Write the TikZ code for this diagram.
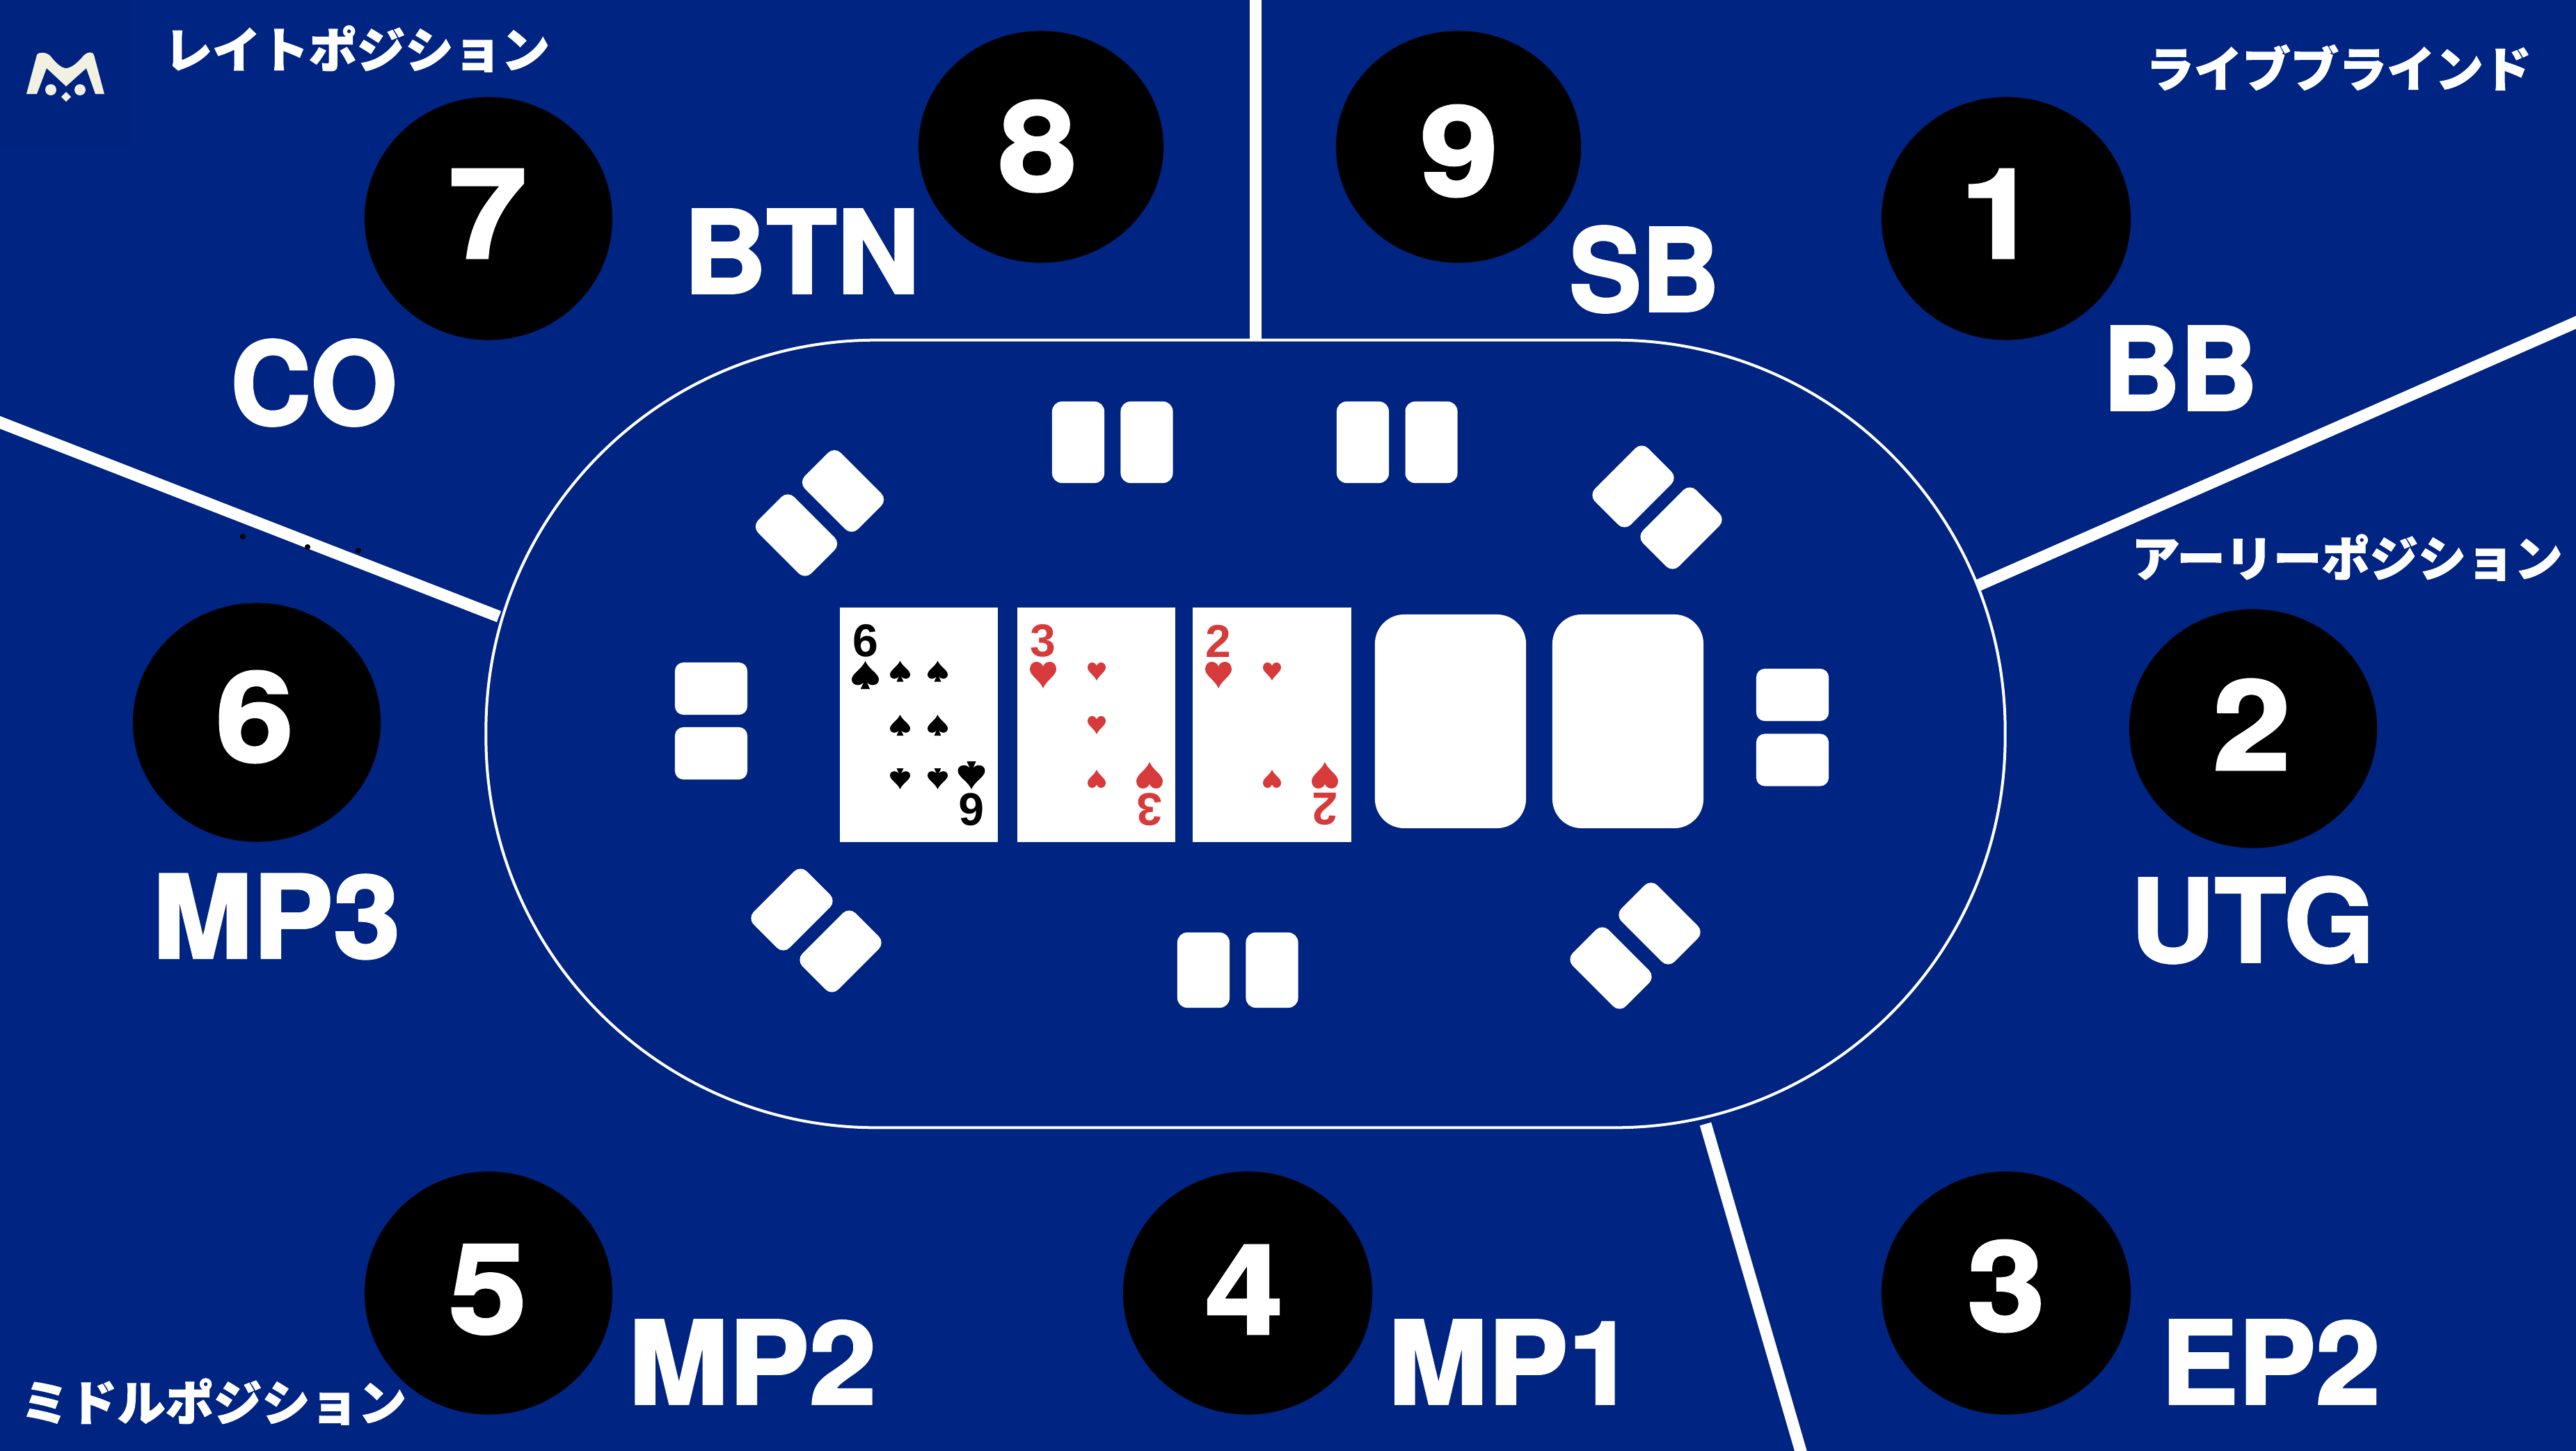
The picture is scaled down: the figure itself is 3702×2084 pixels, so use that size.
\documentclass[tikz,border=0pt]{standalone}
\usepackage{fontspec}
\setmainfont{Liberation Sans}
\newfontfamily\heavyfont{TeX Gyre Heros}[BoldFeatures={FakeBold=2}]
\newfontfamily\jpfont{Noto Sans CJK JP}[BoldFeatures={FakeBold=1.5}]
\usetikzlibrary{shapes.geometric}
\definecolor{felt}{HTML}{002482}
\definecolor{feltdark}{HTML}{00237F}
\definecolor{suitred}{HTML}{D63A3A}
\definecolor{logocol}{HTML}{F2F0E0}
\newcommand{\heartshape}{(0,.5) .. controls (-.12,.2) and (-.5,.02) .. (-.5,-.22) .. controls (-.5,-.4) and (-.38,-.5) .. (-.26,-.5) .. controls (-.12,-.5) and (-.04,-.42) .. (0,-.33) .. controls (.04,-.42) and (.12,-.5) .. (.26,-.5) .. controls (.38,-.5) and (.5,-.4) .. (.5,-.22) .. controls (.5,.02) and (.12,.2) .. (0,.5) -- cycle}
\newcommand{\spadeshape}{(0,-.5) .. controls (.12,-.22) and (.5,-.05) .. (.5,.16) .. controls (.5,.3) and (.38,.36) .. (.27,.36) .. controls (.17,.36) and (.09,.3) .. (.05,.24) -- (.17,.5) -- (-.17,.5) -- (-.05,.24) .. controls (-.09,.3) and (-.17,.36) .. (-.27,.36) .. controls (-.38,.36) and (-.5,.3) .. (-.5,.16) .. controls (-.5,-.05) and (-.12,-.22) .. (0,-.5) -- cycle}
% pip: colour, shape, centre, w, h (negative h turns it upside down)
\newcommand{\pip}[5]{\fill[#1,shift={(#3)},xscale=#4,yscale=#5] #2;}
\tikzset{
  x=0.01cm,y=-0.01cm,
  seat/.style={ellipse,fill=black,inner sep=0pt},
  digitlabel/.style={text=white,font=\heavyfont\fontsize{51}{51}\selectfont\bfseries,inner sep=0pt},
  poslabel/.style={text=white,font=\heavyfont\fontsize{47}{47}\selectfont\bfseries,inner sep=0pt},
  grouplabel/.style={text=white,font=\jpfont\fontsize{19.7}{19.7}\selectfont\bfseries,inner sep=0pt},
  divider/.style={draw=white,line width=0.17cm},
  tablerim/.style={draw=white,line width=0.04cm,rounded corners=5.6cm,minimum width=21.82cm,minimum height=11.31cm,inner sep=0pt},
  facecard/.style={fill=white,minimum width=2.27cm,minimum height=3.37cm,inner sep=0pt},
  blankcard/.style={fill=white,minimum width=2.17cm,minimum height=3.07cm,rounded corners=.42cm,inner sep=0pt},
  chipv/.style={fill=white,minimum width=.75cm,minimum height=1.17cm,rounded corners=.14cm,inner sep=0pt},
  chipb/.style={fill=white,minimum width=.75cm,minimum height=1.08cm,rounded corners=.14cm,inner sep=0pt},
  chiph/.style={fill=white,minimum width=1.04cm,minimum height=.75cm,rounded corners=.12cm,inner sep=0pt},
  chipd/.style={fill=white,minimum width=.73cm,minimum height=1.08cm,rounded corners=.13cm,inner sep=0pt},
  cardnum/.style={inner sep=0pt,font=\fontsize{18.8}{18.8}\selectfont\bfseries},
}
\begin{document}
\begin{tikzpicture}
\useasboundingbox (0,0) rectangle (3702,2084);
\fill[felt] (-6,-6) rectangle (3708,2090);
\fill[feltdark] (0,0) rectangle (190,210);
% table
\node[tablerim] (table) at (1790,1054.5) {};
% dividers
\coordinate (vtop) at (1804,-5);
\coordinate (vbot) at (1804,489);
\coordinate (ltop) at (-5,605);
\coordinate (lbot) at (717,886);
\coordinate (rtop) at (3707,461);
\coordinate (rbot) at (2843,841);
\coordinate (btop) at (2451,1615);
\coordinate (bbot) at (2589,2089);
\draw[divider] (vtop) -- (vbot);
\draw[divider] (ltop) -- (lbot);
\draw[divider] (rtop) -- (rbot);
\draw[divider] (btop) -- (bbot);
% specks
\fill[black] (349,771) circle (4) (442,786) circle (4) (515,791) circle (4);
% seats
\foreach \n/\cx/\cy/\w/\h/\tx/\ty/\dg in {
  a/702/314/3.56/3.49/701/307/7, b/1496/211/3.52/3.33/1491/210/8, c/2096/211/3.52/3.33/2097/217/9,
  d/2883/314/3.58/3.49/2873/307/1, e/3238/1047/3.56/3.43/3236/1041/2, f/369/1038/3.56/3.43/366/1030/6,
  g/702/1858/3.56/3.49/701/1853/5, h/1793/1858/3.58/3.49/1788/1853/4, i/2883/1858/3.58/3.49/2883/1848/3}{
  \node[seat,minimum width=\w cm,minimum height=\h cm] (seat\n) at (\cx,\cy) {};
  \node[digitlabel] (num\n) at (\tx,\ty) {\scalebox{1.12}[1]{\dg}};
}
% position labels
\foreach \n/\px/\py/\sc/\tt in {
  co/451/550/.97/CO, btn/1152/361/1.0/BTN, sb/2363/387/.94/SB, bb/3133/529/.93/BB,
  mpc/397/1317/1.05/MP3, utg/3237/1322/1.015/UTG, mpb/1081/1957/1.05/MP2, mpa/2172/1957/1.045/MP1, ep/3263/1957/1.01/EP2}{
  \node[poslabel] (pos\n) at (\px,\py) {\scalebox{\sc}[1]{\tt}};
}
% group labels
\node[grouplabel] (late) at (513,70) {レイトポジション};
\node[grouplabel] (blind) at (3361,97) {ライブブラインド};
\node[grouplabel] (early) at (3373,801) {アーリーポジション};
\node[grouplabel] (middle) at (307,2014) {ミドルポジション};
% logo
\fill[logocol] (38,135) -- (53,79) .. controls (54,75) and (66,74) .. (72,80) .. controls (80,90) and (88,98) .. (95,98) .. controls (102,98) and (112,90) .. (120,80) .. controls (126,74) and (134,74) .. (135,79) -- (150,135) -- (137,135) -- (124,98) -- (95,124) -- (67,98) -- (53,135) -- cycle;
\fill[logocol] (73,129) circle (8) (115,129) circle (8);
\fill[logocol] (95,132) -- (102,139) -- (95,146) -- (88,139) -- cycle;
% board cards
\node[facecard] (card1) at (1320.5,1041.5) {};
\node[facecard] (card2) at (1575.5,1041.5) {};
\node[facecard] (card3) at (1828,1041.5) {};
\node[blankcard] (card4) at (2084.5,1036.5) {};
\node[blankcard] (card5) at (2339.5,1036.5) {};
% six of spades
\node[cardnum,text=black] (six) at (1244,921) {6};
\node[cardnum,text=black,rotate=180] (sixr) at (1396,1163) {6};
\pip{black}{\spadeshape}{1243.5,970}{39}{40}
\pip{black}{\spadeshape}{1396,1114}{39}{-40}
\foreach \qx in {1293.5,1347.5}{
  \pip{black}{\spadeshape}{\qx,964.5}{29}{30}
  \pip{black}{\spadeshape}{\qx,1042}{29}{30}
  \pip{black}{\spadeshape}{\qx,1119}{29}{-30}
}
% three of hearts
\node[cardnum,text=suitred] (three) at (1499,921) {3};
\node[cardnum,text=suitred,rotate=180] (threer) at (1652,1163) {3};
\pip{suitred}{\heartshape}{1499,970}{38}{38}
\pip{suitred}{\heartshape}{1652,1114}{38}{-38}
\pip{suitred}{\heartshape}{1576,965}{26}{26}
\pip{suitred}{\heartshape}{1576,1042}{26}{26}
\pip{suitred}{\heartshape}{1576,1119}{26}{-26}
% two of hearts
\node[cardnum,text=suitred] (two) at (1751,921) {2};
\node[cardnum,text=suitred,rotate=180] (twor) at (1904,1163) {2};
\pip{suitred}{\heartshape}{1751,970}{38}{38}
\pip{suitred}{\heartshape}{1904,1114}{38}{-38}
\pip{suitred}{\heartshape}{1828,965}{26}{26}
\pip{suitred}{\heartshape}{1828,1119}{26}{-26}
% hole cards
\node[chipv] (ta) at (1549.5,635.5) {};
\node[chipv] (tb) at (1648,635.5) {};
\node[chipv] (tc) at (1958.5,635.5) {};
\node[chipv] (td) at (2057,635.5) {};
\node[chipb] (ba) at (1729.5,1394) {};
\node[chipb] (bb) at (1828,1394) {};
\node[chiph] (la) at (1022,989.5) {};
\node[chiph] (lb) at (1022,1082.5) {};
\node[chiph] (ra) at (2576,998.5) {};
\node[chiph] (rb) at (2576,1092) {};
\node[chipd,rotate=45] (tla) at (1211.5,705.5) {};
\node[chipd,rotate=45] (tlb) at (1144.5,769) {};
\node[chipd,rotate=-45] (tra) at (2347,699) {};
\node[chipd,rotate=-45] (trb) at (2416,759) {};
\node[chipd,rotate=-45] (bla) at (1138,1307) {};
\node[chipd,rotate=-45] (blb) at (1208,1367) {};
\node[chipd,rotate=45] (bra) at (2385,1327) {};
\node[chipd,rotate=45] (brb) at (2315,1391) {};
\end{tikzpicture}
\end{document}
